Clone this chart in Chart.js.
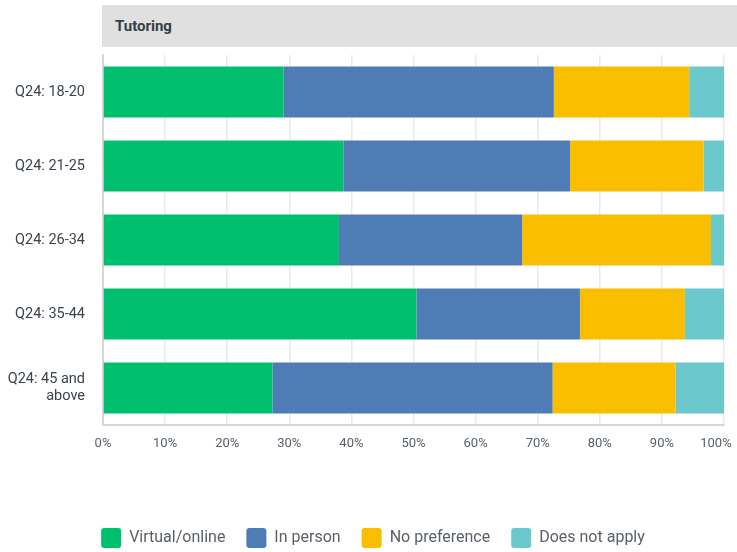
<!DOCTYPE html>
<html>
<head>
<meta charset="utf-8">
<script src="https://cdn.jsdelivr.net/npm/chart.js@4"></script>
<style>
  body { margin: 0; background: #fff; }
  #wrap { position: relative; width: 737px; height: 552px; }
  #header {
    position: absolute; left: 102px; top: 5px; width: 635px; height: 42px;
    background: #e0e0e0; color: #333e48; font: bold 15px Roboto, sans-serif;
    line-height: 42px; padding-left: 13px; box-sizing: border-box;
  }
</style>
</head>
<body>
<div id="wrap">
  <canvas id="chart" width="737" height="552"></canvas>
  <div id="header">Tutoring</div>
</div>
<script>
// survey answers, percent of respondents per age group
var categories = ['Q24: 18-20', 'Q24: 21-25', 'Q24: 26-34', 'Q24: 35-44', ['Q24: 45 and', 'above']];
var seriesNames = ['Virtual/online', 'In person', 'No preference', 'Does not apply'];
var virtualOnline = [29.1, 38.7, 38.0, 50.5, 27.3];
var inPerson = [43.5, 36.5, 29.5, 26.3, 45.1];
var noPreference = [21.8, 21.5, 30.4, 16.9, 19.8];
var doesNotApply = [5.6, 3.3, 2.1, 6.3, 7.8];
var tickValues = [0, 10, 20, 30, 40, 50, 60, 70, 80, 90, 100];

var colors = ['#00bf6f', '#507cb6', '#f9be00', '#6bc8cd'];
var values = [virtualOnline, inPerson, noPreference, doesNotApply];

// nudge the legend a bit to the right, it is centred under the bars in the original
var legendShift = {
  id: 'legendShift',
  afterLayout: function (chart) {
    chart.legend.left += 11;
    chart.legend.right += 11;
  }
};

document.addEventListener('DOMContentLoaded', function () {
  var ctx = document.getElementById('chart').getContext('2d');
  Chart.defaults.font.family = 'Roboto, sans-serif';

  new Chart(ctx, {
    type: 'bar',
    data: {
      labels: categories,
      datasets: seriesNames.map(function (name, i) {
        return {
          label: name,
          data: values[i],
          backgroundColor: colors[i],
          borderWidth: 0,
          barPercentage: 0.69,
          categoryPercentage: 1
        };
      })
    },
    plugins: [legendShift],
    options: {
      indexAxis: 'y',
      responsive: false,
      animation: false,
      layout: { padding: { top: 55, right: 13, bottom: -6, left: 0 } },
      plugins: {
        tooltip: { enabled: false },
        legend: {
          position: 'bottom',
          labels: {
            boxWidth: 20,
            boxHeight: 20,
            padding: 21,
            useBorderRadius: true,
            borderRadius: 3,
            color: '#5b6167',
            font: { size: 16 }
          }
        }
      },
      scales: {
        x: {
          stacked: true,
          min: 0,
          max: 100,
          afterBuildTicks: function (s) {
            s.ticks = tickValues.map(function (v) { return { value: v }; });
          },
          afterFit: function (s) { s.height = 82; s.paddingRight = 0; s.paddingLeft = 0; },
          grid: { color: '#ebebeb', lineWidth: 1.5, drawTicks: false },
          border: { color: '#d6d6d6', width: 2 },
          ticks: {
            padding: 11,
            color: '#59616a',
            font: { size: 13 },
            // last label sits a little left of its grid line, as in the original
            callback: function (v) { return v === 100 ? v + '%     ' : v + '%'; }
          }
        },
        y: {
          stacked: true,
          afterFit: function (s) { s.width = 103; },
          grid: { display: false },
          border: { color: '#d6d6d6', width: 2 },
          ticks: {
            padding: 10,
            color: '#3b444c',
            font: { size: 14.5 }
          }
        }
      }
    }
  });
});
</script>
</body>
</html>
